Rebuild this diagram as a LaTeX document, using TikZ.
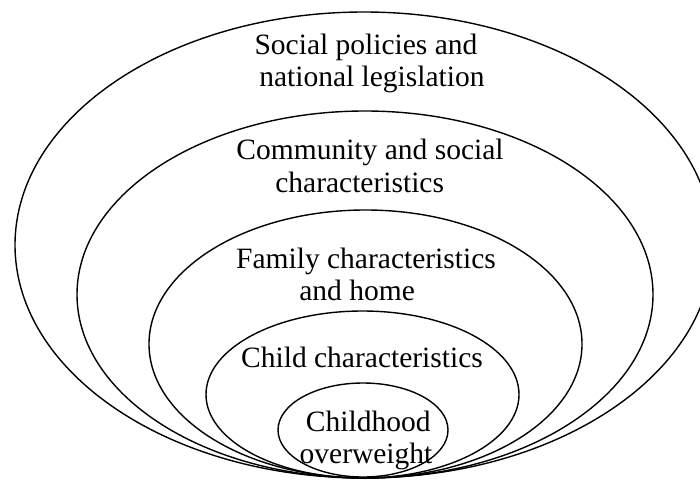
\documentclass[tikz,border=0pt]{standalone}
\usepackage{fontspec}
\setmainfont{Liberation Serif}
\usepackage{tikz}
\usetikzlibrary{positioning}
\tikzset{ring/.style={line width=1.4pt}, lbl/.style={align=center, font=\fontsize{29.5}{32}\selectfont, inner sep=0pt, anchor=base}}

\begin{document}
\begin{tikzpicture}[x=1pt, y=1pt]
	\useasboundingbox (0,0) rectangle (700,480);
	\clip (0,0) rectangle (700,480);
	% nested rings, all touching at the bottom
	\draw [ring] (364,235) ellipse (349 and 233);
	\draw [ring] (365,185.5) ellipse (288 and 183.5);
	\draw [ring] (365.5,136) ellipse (216.5 and 134);
	\draw [ring] (362.5,85.5) ellipse (156.5 and 83.5);
	\draw [ring] (363,50) ellipse (85 and 47);
	
	% base = last line
	\node [lbl] (policy) at (366,393) {Social policies and\\ \hspace*{0.4em}national legislation};
	\node [lbl] (community) at (370,288) {Community and social\\characteristics\hspace*{0.7em}};
	\node [lbl] (family) at (366,180) {Family characteristics\\and home\hspace*{0.6em}};
	\node [lbl] (child) at (362,113) {Child characteristics};
	\node [lbl] (overweight) at (366,17) {\hspace*{0.15em}Childhood\\overweight};
\end{tikzpicture}
\end{document}
